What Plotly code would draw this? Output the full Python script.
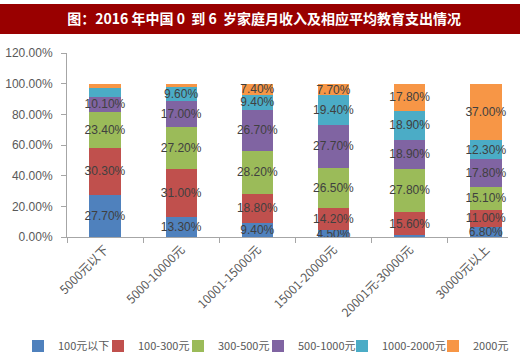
import plotly.graph_objects as go

categories = ["5000元以下", "5000-10000元", "10001-15000元", "15001-20000元", "20001元-30000元", "30000元以上"]
series_names = ["100元以下", "100-300元", "300-500元", "500-1000元", "1000-2000元", "2000元"]
s_100 = [27.7, 13.3, 9.4, 4.5, 1.0, 6.8]
s_100_300 = [30.3, 31.0, 18.8, 14.2, 15.6, 11.0]
s_300_500 = [23.4, 27.2, 28.2, 26.5, 27.8, 15.1]
s_500_1000 = [10.1, 17.0, 26.7, 27.7, 18.9, 17.8]
s_1000_2000 = [5.6, 9.6, 9.4, 19.4, 18.9, 12.3]
s_2000 = [3.0, 1.9, 7.4, 7.7, 17.8, 37.0]
# which segments carry a printed label in the reference
labelled = [
    [True, True, True, True, False, True],
    [True, True, True, True, True, True],
    [True, True, True, True, True, True],
    [True, True, True, True, True, True],
    [False, True, True, True, True, True],
    [False, False, True, True, True, True],
]
y_ticks = [0, 20, 40, 60, 80, 100, 120]
y_tick_text = [f"{v:.2f}%" for v in y_ticks]
title_text = "图：2016 年中国 0  到 6  岁家庭月收入及相应平均教育支出情况"

colors = ["#4F81BD", "#C0504D", "#9BBB59", "#8064A2", "#4BACC6", "#F79646"]
all_series = [s_100, s_100_300, s_300_500, s_500_1000, s_1000_2000, s_2000]
legend_text_px = [58, 138, 218, 298, 382, 473]   # legend label left edges (layout only)

W, H = 520, 359
ml, mr, mt, mb = 67, 12, 53, 122
ph = H - mt - mb

fig = go.Figure()
legend_layouts = {}
for i, (name, vals, col, lab) in enumerate(zip(series_names, all_series, colors, labelled)):
    texts = [f"{v:.2f}%" if show else "" for v, show in zip(vals, lab)]
    lg = "legend" if i == 0 else f"legend{i + 1}"
    fig.add_trace(go.Bar(
        x=categories, y=vals, name=name, marker_color=col,
        marker_line_width=0, legend=lg,
        text=texts, textposition="inside", insidetextanchor="middle",
        constraintext="none", textangle=0, cliponaxis=False,
        textfont=dict(family="Liberation Sans", size=12, color="#404040"),
        hoverinfo="skip",
    ))
    legend_layouts[lg] = dict(
        orientation="h", xref="container", yref="container",
        x=(legend_text_px[i] - 40) / W, xanchor="left",
        y=1 - 346 / H, yanchor="middle",
        font=dict(size=11, color="#595959"), itemwidth=30,
        bgcolor="rgba(0,0,0,0)",
    )

fig.add_shape(type="rect", xref="paper", yref="paper",
              x0=-ml / (W - ml - mr), x1=1 + mr / (W - ml - mr),
              y0=1 + (mt - 34) / ph, y1=1 + (mt - 4) / ph,
              fillcolor="#990000", line_width=0, layer="below")

fig.update_layout(
    width=W, height=H,
    margin=dict(l=ml, r=mr, t=mt, b=mb, autoexpand=False),
    barmode="stack", bargap=0.59,
    plot_bgcolor="white", paper_bgcolor="white",
    font=dict(family="Noto Sans CJK SC", color="#595959", size=11),
    uniformtext=dict(mode="show", minsize=12),
    title=dict(text=title_text, x=0.508, xanchor="center", y=1 - 19 / H, yanchor="middle",
               font=dict(family="Noto Sans CJK SC", size=14, color="white", weight="bold")),
    xaxis=dict(range=[-0.5, 5.29], showgrid=False, showline=True, linecolor="#A6A6A6", linewidth=1,
               ticks="outside", tickson="boundaries", ticklen=5, tickcolor="#A6A6A6",
               tickangle=-45, tickfont=dict(size=12, color="#595959"), automargin=False),
    yaxis=dict(range=[0, 120], tickvals=y_ticks, ticktext=y_tick_text,
               showgrid=False, showline=True, linecolor="#A6A6A6", linewidth=1,
               ticks="outside", ticklen=5, tickcolor="#A6A6A6", automargin=False,
               ticklabelstandoff=6,
               tickfont=dict(family="Liberation Sans", size=12, color="#595959"), zeroline=False),
    showlegend=True,
    **legend_layouts,
)

fig.write_html("out.html", config={"displayModeBar": False},
               post_script="document.body.style.margin='0';")
